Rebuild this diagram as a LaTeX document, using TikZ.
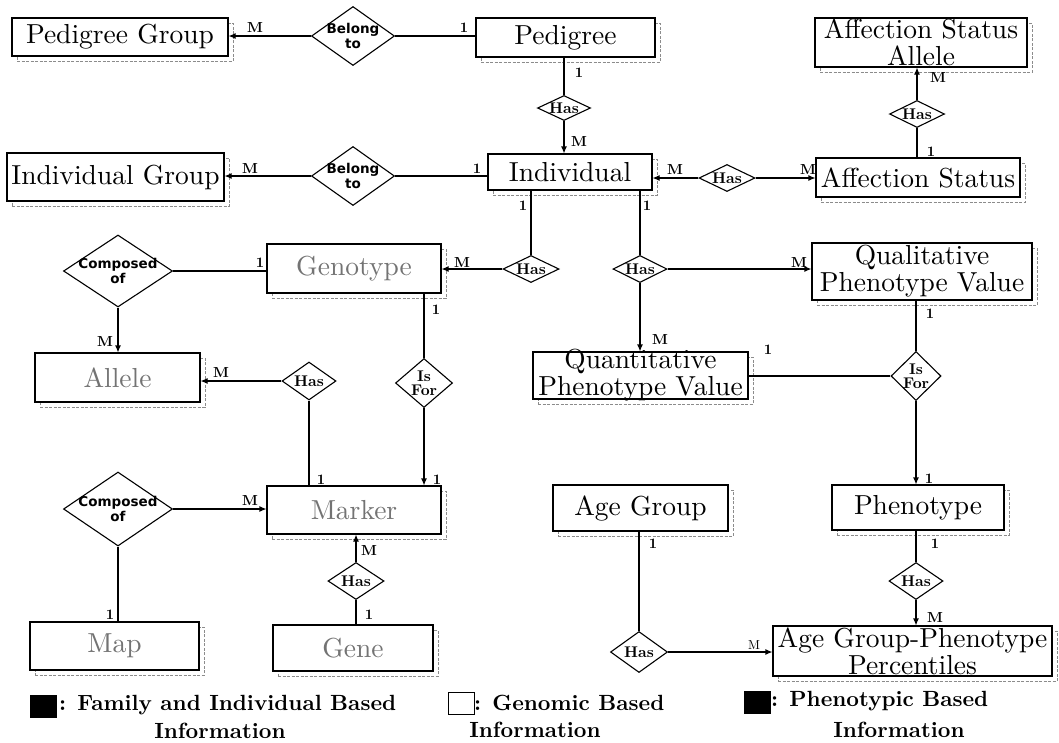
\documentclass[tikz,border=0pt]{standalone}
\usepackage{fontspec}
\setmainfont{lmroman10-regular.otf}[BoldFont=lmroman10-bold.otf]
\newfontfamily\labsans{DejaVu Sans}
\usetikzlibrary{shapes.geometric,arrows.meta,shadows}
\begin{document}
\begin{tikzpicture}[x=1pt,y=-1pt,
  ln/.style={line width=1.1pt},
  arr/.style={-{Latex[length=7pt,width=6pt]}},
  box/.style={draw, line width=1.1pt, fill=white, inner sep=0pt,
    general shadow={shadow xshift=5pt, shadow yshift=-5pt, draw=black!45,
      dash pattern=on 3pt off 1.5pt, line width=0.6pt}},
  etext/.style={font=\fontsize{27.5}{27}\selectfont, align=center, inner sep=0pt},
  gtext/.style={etext, text=black!55},
  ent/.style n args={3}{box, minimum width=#1pt, minimum height=#2pt,
    label={[etext]center:{#3}}},
  gent/.style n args={3}{box, minimum width=#1pt, minimum height=#2pt,
    label={[gtext]center:{#3}}},
  rtext/.style={font=\bfseries\fontsize{15.5}{14}\selectfont, align=center, inner sep=0pt},
  stext/.style={font=\labsans\bfseries\fontsize{13.5}{15}\selectfont, align=center, inner sep=0pt},
  diam/.style n args={2}{diamond, draw, line width=1.1pt, fill=white, inner sep=0pt,
    minimum width=#1pt, minimum height=#2pt},
  rel/.style n args={3}{diam={#1}{#2}, label={[rtext]center:{#3}}},
  srel/.style n args={3}{diam={#1}{#2}, label={[stext]center:{#3}}},
  card/.style={font=\bfseries\fontsize{14.5}{14}\selectfont, inner sep=0pt},
  legtext/.style={font=\bfseries\fontsize{22}{22}\selectfont, inner sep=0pt},
  legkey/.style={draw, line width=0.8pt, inner sep=0pt, minimum width=26pt, minimum height=22pt}
]
\fill[white] (0,0) rectangle (1059,742);
\useasboundingbox (0,0) rectangle (1059,742);

% entities
\node[ent={216}{38}{Pedigree Group}] (pg) at (120,37) {};
\node[ent={179}{39}{Pedigree}] (ped) at (565.5,37.5) {};
\node[ent={212}{49}{Affection Status\\Allele}] (asa) at (921,42.5) {};
\node[ent={217}{48}{Individual Group}] (ig) at (115.5,177) {};
\node[ent={164}{36}{Individual}] (ind) at (570,172) {};
\node[ent={204}{39}{Affection Status}] (as) at (918,177.5) {};
\node[gent={174}{49}{Genotype}] (gty) at (354,268.5) {};
\node[ent={220}{57}{Qualitative\\Phenotype Value}] (qual) at (922,271.5) {};
\node[gent={165}{49}{Allele}] (all) at (117.5,377.5) {};
\node[ent={215}{47}{Quantitative\\Phenotype Value}] (quant) at (640.5,375.5) {};
\node[gent={174}{48}{Marker}] (mrk) at (354,510) {};
\node[ent={175}{46}{Age Group}] (ag) at (640.5,508) {};
\node[ent={172}{45}{Phenotype}] (phe) at (918,507.5) {};
\node[gent={169}{48}{Map}] (map) at (114.5,646) {};
\node[gent={160}{46}{Gene}] (gene) at (353,648) {};
\node[ent={279}{50}{Age Group-Phenotype\\Percentiles}] (pct) at (912.5,651) {};

% relationships
\node[srel={83}{59}{Belong\\to}] (b1) at (353,36) {};
\node[srel={83}{59}{Belong\\to}] (b2) at (353,176) {};
\node[rel={53}{25}{Has}] (hPI) at (564,108) {};
\node[rel={55}{27}{Has}] (hAS) at (917,114) {};
\node[rel={56}{27}{Has}] (hIA) at (727,178) {};
\node[rel={56}{27}{Has}] (hIG) at (531,269) {};
\node[rel={54}{27}{Has}] (hIQ) at (640,269) {};
\node[srel={109}{72}{Composed\\of}] (cAl) at (118,271) {};
\node[rel={54}{38}{Has}] (hAM) at (309,381) {};
\node[rel={57}{49}{Is\\For}] (isG) at (424,383) {};
\node[rel={50}{49}{Is\\For}] (isQ) at (916,376) {};
\node[srel={109}{74}{Composed\\of}] (cMap) at (118,509) {};
\node[rel={56}{37}{Has}] (hMG) at (356,581) {};
\node[rel={57}{41}{Has}] (hAP) at (639,652) {};
\node[rel={54}{37}{Has}] (hPP) at (916,581) {};

% connectors
\draw[ln,arr] (b1.west) -- (b1.west -| pg.east);
\draw[ln] (b1.east) -- (b1.east -| ped.west);
\draw[ln] (hPI.north |- ped.south) -- (hPI.north);
\draw[ln,arr] (hPI.south) -- (hPI.south |- ind.north);
\draw[ln,arr] (b2.west) -- (b2.west -| ig.east);
\draw[ln] (b2.east) -- (b2.east -| ind.west);
\draw[ln,arr] (hIA.west) -- (hIA.west -| ind.east);
\draw[ln,arr] (hIA.east) -- (hIA.east -| as.west);
\draw[ln] (hAS.south |- as.north) -- (hAS.south);
\draw[ln,arr] (hAS.north) -- (hAS.north |- asa.south);
\draw[ln] (hIG.north |- ind.south) -- (hIG.north);
\draw[ln,arr] (hIG.west) -- (hIG.west -| gty.east);
\draw[ln] (hIQ.north |- ind.south) -- (hIQ.north);
\draw[ln,arr] (hIQ.east) -- (hIQ.east -| qual.west);
\draw[ln,arr] (hIQ.south) -- (hIQ.south |- quant.north);
\draw[ln] (cAl.east) -- (cAl.east -| gty.west);
\draw[ln,arr] (cAl.south) -- (cAl.south |- all.north);
\draw[ln] (isG.north |- gty.south) -- (isG.north);
\draw[ln,arr] (isG.south) -- (isG.south |- mrk.north);
\draw[ln,arr] (hAM.west) -- (hAM.west -| all.east);
\draw[ln] (hAM.south) -- (hAM.south |- mrk.north);
\draw[ln,arr] (cMap.east) -- (cMap.east -| mrk.west);
\draw[ln] (cMap.south) -- (cMap.south |- map.north);
\draw[ln,arr] (hMG.north) -- (hMG.north |- mrk.south);
\draw[ln] (hMG.south) -- (hMG.south |- gene.north);
\draw[ln] (isQ.north |- qual.south) -- (isQ.north);
\draw[ln] (isQ.west) -- (isQ.west -| quant.east);
\draw[ln,arr] (isQ.south) -- (isQ.south |- phe.north);
\draw[ln] (hAP.north |- ag.south) -- (hAP.north);
\draw[ln,arr] (hAP.east) -- (hAP.east -| pct.west);
\draw[ln] (hPP.north |- phe.south) -- (hPP.north);
\draw[ln,arr] (hPP.south) -- (hPP.south |- pct.north);

% cardinalities
\node[card] (k1) at (255,28) {M};
\node[card] (k2) at (464,28) {1};
\node[card] (k3) at (579,73) {1};
\node[card] (k4) at (579,142) {M};
\node[card] (k5) at (250,169) {M};
\node[card] (k6) at (477,169) {1};
\node[card] (k7) at (675,170) {M};
\node[card] (k8) at (808,170) {M};
\node[card] (k9) at (931,152) {1};
\node[card] (k10) at (938,78) {M};
\node[card] (k11) at (523,206) {1};
\node[card] (k12) at (647,206) {1};
\node[card] (k13) at (462,263) {M};
\node[card] (k14) at (799,263) {M};
\node[card] (k15) at (660,340) {M};
\node[card] (k16) at (260,263) {1};
\node[card] (k17) at (105,342) {M};
\node[card] (k18) at (436,310) {1};
\node[card] (k19) at (221,373) {M};
\node[card] (k20) at (321,480) {1};
\node[card] (k21) at (437,480) {1};
\node[card] (k22) at (930,314) {1};
\node[card] (k23) at (768,350) {1};
\node[card] (k24) at (929,479) {1};
\node[card] (k25) at (250,501) {M};
\node[card] (k26) at (110,615) {1};
\node[card] (k27) at (369,551) {M};
\node[card] (k28) at (369,615) {1};
\node[card] (k29) at (653,544) {1};
\node[card, font=\fontsize{13}{13}\selectfont] (k30) at (754,645) {M};
\node[card] (k31) at (935,544) {1};
\node[card] (k32) at (935,618) {M};

% legend
\node[legkey, fill=black] (key1) at (43,706.5) {};
\node[legtext, anchor=west] (lg1) at (59,705) {: Family and Individual Based};
\node[legtext] (lg1b) at (220,731) {Information};
\node[legkey, fill=white] (key2) at (461,703) {};
\node[legtext, anchor=west] (lg2) at (474,703) {: Genomic Based};
\node[legtext] (lg2b) at (535,730) {Information};
\node[legkey, fill=black] (key3) at (757,702) {};
\node[legtext, anchor=west] (lg3) at (771,701) {: Phenotypic Based};
\node[legtext] (lg3b) at (899,730) {Information};
\end{tikzpicture}
\end{document}
